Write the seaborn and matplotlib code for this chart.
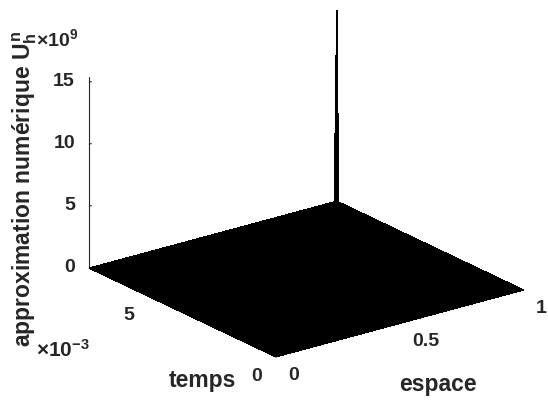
import numpy as np
import matplotlib
matplotlib.use("Agg")
import matplotlib.pyplot as plt
import seaborn as sns
from matplotlib.ticker import FixedLocator, FixedFormatter

# ---- data ----
espace = np.linspace(0.0, 1.0, 101)          # space grid
temps = np.linspace(0.0, 7.3e-3, 101)        # time grid
peak_value = 15.4e9                           # spike at (espace=1, temps=max)
U = np.zeros((temps.size, espace.size))
U[-1, -1] = peak_value

espace_ticks = [0, 0.5, 1]
espace_labels = ["0", "0.5", "1"]
temps_ticks = [0, 5e-3]
temps_labels = ["0", "5"]
u_ticks = [0, 5e9, 10e9, 15e9]
u_labels = ["0", "5", "10", "15"]

TXT = "#262626"
sns.set_style("white")
plt.rcParams["font.family"] = ["Liberation Sans", "DejaVu Sans"]
plt.rcParams["font.weight"] = "bold"
plt.rcParams["mathtext.fontset"] = "custom"
plt.rcParams["mathtext.rm"] = "Liberation Sans:bold"
plt.rcParams["mathtext.it"] = "Liberation Sans:bold"
plt.rcParams["mathtext.bf"] = "Liberation Sans:bold"

fig = plt.figure(figsize=(5.48, 4.03), dpi=100)
ax = fig.add_axes([0.149, 0.031, 0.8, 1.0], projection="3d", proj_type="ortho")

X, Y = np.meshgrid(espace, temps)
surf = ax.plot_surface(X, Y, U, color="black", edgecolor="black", linewidth=0.3,
                       shade=False, antialiased=False, rstride=1, cstride=1)
surf.set_clip_on(False)

ax.set_xlim(espace[0], espace[-1])
ax.set_ylim(temps[0], temps[-1])
ax.set_zlim(0, peak_value)
ax.view_init(elev=21, azim=-127)
ax.set_box_aspect((1, 1, 0.66), zoom=1.165)

ax.grid(False)
for axis in (ax.xaxis, ax.yaxis, ax.zaxis):
    axis.set_pane_color((1, 1, 1, 0))
    axis.pane.set_edgecolor((1, 1, 1, 0))
    axis.line.set_color(TXT)
    axis.line.set_linewidth(0.8)
    axis._axinfo["tick"]["inward_factor"] = 0.0
    axis._axinfo["tick"]["outward_factor"] = 0.1
    axis._axinfo["tick"]["color"] = TXT

ax.xaxis.set_major_locator(FixedLocator(espace_ticks))
ax.xaxis.set_major_formatter(FixedFormatter(espace_labels))
ax.yaxis.set_major_locator(FixedLocator(temps_ticks))
ax.yaxis.set_major_formatter(FixedFormatter(temps_labels))
ax.zaxis.set_major_locator(FixedLocator(u_ticks))
ax.zaxis.set_major_formatter(FixedFormatter(u_labels))
ax.tick_params(axis="x", labelsize=14, colors=TXT, pad=2)
ax.tick_params(axis="y", labelsize=14, colors=TXT, pad=3.5)
ax.tick_params(axis="z", labelsize=14, colors=TXT, pad=-3)
for lab in ax.get_xticklabels():
    lab.set_fontweight("bold")
    lab.set_va("center")
    lab.set_ha("left")
for lab in ax.get_yticklabels():
    lab.set_fontweight("bold")
    lab.set_va("center")
    lab.set_ha("center")
for lab in ax.get_zticklabels():
    lab.set_fontweight("bold")
    lab.set_va("center")
    lab.set_ha("right")

fig.text(202 / 548, 1 - 381 / 403, "temps", fontsize=16.5, fontweight="bold",
         color=TXT, ha="center", va="center")
fig.text(438 / 548, 1 - 385 / 403, "espace", fontsize=16.5, fontweight="bold",
         color=TXT, ha="center", va="center")
fig.text(25 / 548, 1 - 347 / 403, "approximation numérique $U_h^n$", rotation=90,
         fontsize=16.5, fontweight="bold", color=TXT, ha="center", va="bottom")
fig.text(36 / 548, 1 - 46 / 403, r"$\times 10^{9}$", fontsize=14, color=TXT)
fig.text(36 / 548, 1 - 357 / 403, r"$\times 10^{-3}$", fontsize=15, color=TXT)

fig.savefig("out.png", dpi=100)
